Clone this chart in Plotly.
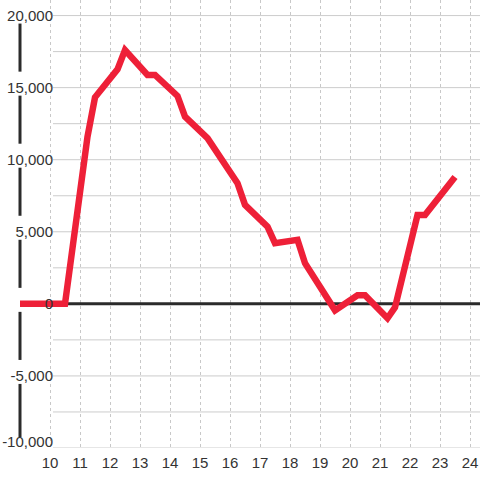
import plotly.graph_objects as go

# Data (hours of day, value)
hours = [9.0, 10.5, 11.25, 11.5, 12.25, 12.5, 13.25, 13.5, 14.25, 14.5, 15.25,
         16.25, 16.5, 17.25, 17.5, 18.25, 18.5, 19.5, 20.25, 20.5, 21.25, 21.5,
         22.25, 22.5, 23.5]
values = [0, 0, 11600, 14330, 16270, 17600, 15880, 15880, 14420, 12990, 11500,
          8370, 6865, 5360, 4210, 4440, 2820, -450, 600, 600, -1000, -250,
          6170, 6170, 8800]

x_ticks = list(range(10, 25))
y_ticks = [-10000, -5000, 0, 5000, 10000, 15000, 20000]
y_tick_labels = ["-10,000", "-5,000", "0", "5,000", "10,000", "15,000", "20,000"]
y_grid = [-10000, -7500, -5000, -2500, 2500, 5000, 7500, 10000, 12500, 15000, 17500, 20000]

W, H = 480, 480
PLOT_H = 448
X0, X1 = 8.3333, 24.3333
Y0, Y1 = -10000, 21080
PX = PLOT_H / (Y1 - Y0)   # pixels per unit

# labels are kept at least ~6px above the plot bottom edge
label_pos = [max(v, Y0 + 6 / PX) for v in y_ticks]

fig = go.Figure()
fig.add_trace(go.Scatter(x=hours, y=values, mode="lines",
                         line=dict(color="#EE2038", width=6.5),
                         hoverinfo="skip", showlegend=False))

shapes = []
# horizontal gridlines
for v in y_grid:
    shapes.append(dict(type="line", xref="paper", yref="y", x0=53 / W, x1=1, y0=v, y1=v,
                       line=dict(color="#cccccc", width=1), layer="below"))
# zero line
shapes.append(dict(type="line", xref="x", yref="y", x0=hours[0], x1=X1, y0=0, y1=0,
                   line=dict(color="#2b2b2b", width=3), layer="between"))
# y axis line segments with gaps around labels
tv = sorted(y_ticks, reverse=True)
for a, b in zip(tv[:-1], tv[1:]):
    top = a - 8 / PX
    bot = b + 16 / PX if b != tv[-1] else b + 11 / PX
    shapes.append(dict(type="line", xref="x", yref="y", x0=hours[0], x1=hours[0],
                       y0=top, y1=bot, line=dict(color="#2b2b2b", width=3), layer="between"))

fig.update_layout(
    width=W, height=H,
    margin=dict(l=0, r=0, t=0, b=H - PLOT_H),
    paper_bgcolor="white", plot_bgcolor="white",
    font=dict(family="Liberation Sans, Arial, sans-serif", size=15, color="#333333"),
    shapes=shapes,
    xaxis=dict(range=[X0, X1], tickmode="array", tickvals=x_ticks,
               ticktext=[str(t) for t in x_ticks], showgrid=True,
               gridcolor="#c8c8c8", griddash="3px,3px", gridwidth=1,
               zeroline=False, showline=False, ticks="", ticklabelstandoff=4,
               fixedrange=True),
    yaxis=dict(range=[Y0, Y1], tickmode="array", tickvals=label_pos,
               ticktext=y_tick_labels, showgrid=False, zeroline=False,
               showline=False, ticks="", ticklabelposition="outside",
               ticklabelstandoff=-54, automargin=False, fixedrange=True),
)

fig.write_html("out.html", config={"displayModeBar": False},
               post_script="document.body.style.margin='0';document.body.style.overflow='hidden';")
